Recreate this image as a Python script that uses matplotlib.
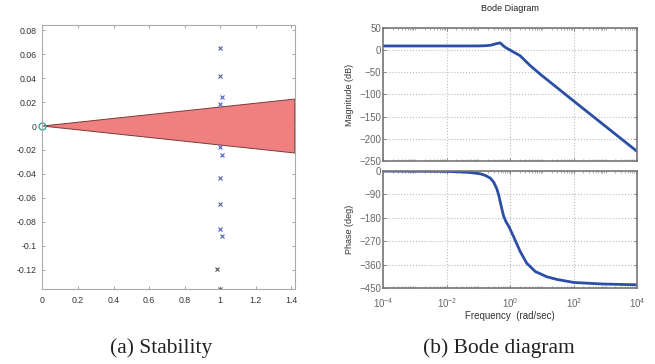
import numpy as np
import matplotlib.pyplot as plt
from matplotlib.ticker import LogLocator, NullFormatter

plt.rcParams['font.family'] = ['Liberation Sans', 'DejaVu Sans']

# ---- (a) stability: poles near z=1 and the stability wedge ----
pole_x = [1.0, 1.0, 1.01, 1.0, 1.0, 1.01, 1.0, 1.0, 1.0, 1.01]
pole_y = [0.065, 0.042, 0.024, 0.018, -0.0175, -0.024, -0.043, -0.065, -0.086, -0.092]
pole2_x = [0.985, 1.0]
pole2_y = [-0.119, -0.136]
wedge_x = [0.0, 1.42, 1.42]
wedge_y = [0.0, 0.0225, -0.0225]

# ---- (b) bode diagram ----
w_log = [-4, -3, -2, -1.5, -1.0, -0.8, -0.63, -0.52, -0.42, -0.32, -0.24, -0.16,
         0.0, 0.31, 0.63, 0.94, 2.0, 3.0, 4.0]
mag_db = [9.5, 9.5, 9.5, 9.5, 9.6, 10.0, 11.0, 13.0, 15.0, 16.5, 11.5, 6.5,
          0.0, -12.5, -35.0, -54.0, -115.0, -172.0, -229.0]

ph_log = [-4, -2, -1.3, -0.94, -0.78, -0.63, -0.52, -0.42, -0.36, -0.31, -0.26,
          -0.21, -0.13, -0.05, 0.10, 0.31, 0.52, 0.79, 1.15, 1.46, 2.0, 2.92, 4.0]
phase_deg = [0, -1, -5, -10.5, -17, -27, -43, -69, -94, -121, -148,
             -173, -196, -212, -251, -309, -355, -387, -407, -417, -429, -435, -438]

fig = plt.figure(figsize=(6.55, 3.64), dpi=100)

ax1 = fig.add_axes([0.064, 0.206, 0.386, 0.725])
ax1.fill(wedge_x, wedge_y, facecolor='#f08080', edgecolor='#7a3a3a', linewidth=0.7)
ax1.plot(pole_x, pole_y, 'x', color='#4a5fc8', markersize=3.5, markeredgewidth=0.8)
ax1.plot(pole2_x, pole2_y, 'x', color='#555555', markersize=3.5, markeredgewidth=0.8)
ax1.plot([0], [0], 'o', mfc='none', mec='#3aa59a', markersize=5, markeredgewidth=1,
         clip_on=False)
ax1.set_xlim(-0.003, 1.42)
ax1.set_ylim(-0.136, 0.0842)
ax1.set_xticks(np.arange(0, 1.41, 0.2))
ax1.set_xticklabels(['0', '0.2', '0.4', '0.6', '0.8', '1', '1.2', '1.4'])
yt = [0.08, 0.06, 0.04, 0.02, 0, -0.02, -0.04, -0.06, -0.08, -0.1, -0.12]
ax1.set_yticks(yt)
ax1.set_yticklabels(['0.08', '0.06', '0.04', '0.02', '0', '-0.02', '-0.04',
                     '-0.06', '-0.08', '-0.1', '-0.12'])
ax1.tick_params(direction='in', top=True, right=True, length=2.5, width=0.6,
                labelsize=6.3, colors='#999999', labelcolor='#333333', pad=4)
ax1.tick_params(axis='x', pad=5)
for s in ax1.spines.values():
    s.set_color('#aaaaaa')
    s.set_linewidth(0.8)

# magnitude
ax2 = fig.add_axes([0.585, 0.558, 0.388, 0.365])
ax2.plot(10.0 ** np.array(w_log), mag_db, color='#2c4ea6', linewidth=2)
ax2.set_xscale('log')
ax2.set_xlim(1e-4, 1e4)
ax2.set_ylim(-250, 50)
ax2.set_yticks([50, 0, -50, -100, -150, -200, -250])
ax2.set_yticklabels(['50', '0', '\u221250', '\u2212100', '\u2212150', '\u2212200', '\u2212250'])
ax2.set_xticks([1e-4, 1e-2, 1e0, 1e2, 1e4])
ax2.set_xticklabels([])
ax2.set_ylabel('Magnitude (dB)', fontsize=6.5, color='#333333', labelpad=4)
ax2.set_title('Bode Diagram', fontsize=6.5, color='#222222', pad=12)

# phase
ax3 = fig.add_axes([0.585, 0.209, 0.388, 0.321])
ax3.plot(10.0 ** np.array(ph_log), phase_deg, color='#2c4ea6', linewidth=2)
ax3.set_xscale('log')
ax3.set_xlim(1e-4, 1e4)
ax3.set_ylim(-450, 0)
ax3.set_yticks([0, -90, -180, -270, -360, -450])
ax3.set_yticklabels(['0', '\u221290', '\u2212180', '\u2212270', '\u2212360', '\u2212450'])
ax3.set_xticks([1e-4, 1e-2, 1e0, 1e2, 1e4])
ax3.set_xlabel('Frequency  (rad/sec)', fontsize=7, color='#333333', labelpad=1)
ax3.set_ylabel('Phase (deg)', fontsize=6.5, color='#333333', labelpad=4)

for ax in (ax2, ax3):
    ax.xaxis.set_minor_locator(LogLocator(base=10, subs=np.arange(1, 10), numticks=20))
    ax.xaxis.set_minor_formatter(NullFormatter())
    ax.grid(True, which='major', linestyle=':', color='#bbbbbb', linewidth=0.8)
    ax.tick_params(direction='in', top=True, right=True, length=2.5, width=0.6,
                   labelsize=7, colors='#777777', labelcolor='#666666', pad=1.5)
    ax.tick_params(which='minor', direction='in', top=True, length=1.5, width=0.5,
                   colors='#888888')
    for s in ax.spines.values():
        s.set_color('#777777')
        s.set_linewidth(1.2)
ax3.tick_params(axis='x', pad=6)

fig.text(0.246, 0.044, '(a) Stability', fontsize=15.5, family='Liberation Serif',
         ha='center', va='center', color='#222222')
fig.text(0.762, 0.044, '(b) Bode diagram', fontsize=15.5, family='Liberation Serif',
         ha='center', va='center', color='#222222')

fig.savefig('out.png', dpi=100)
